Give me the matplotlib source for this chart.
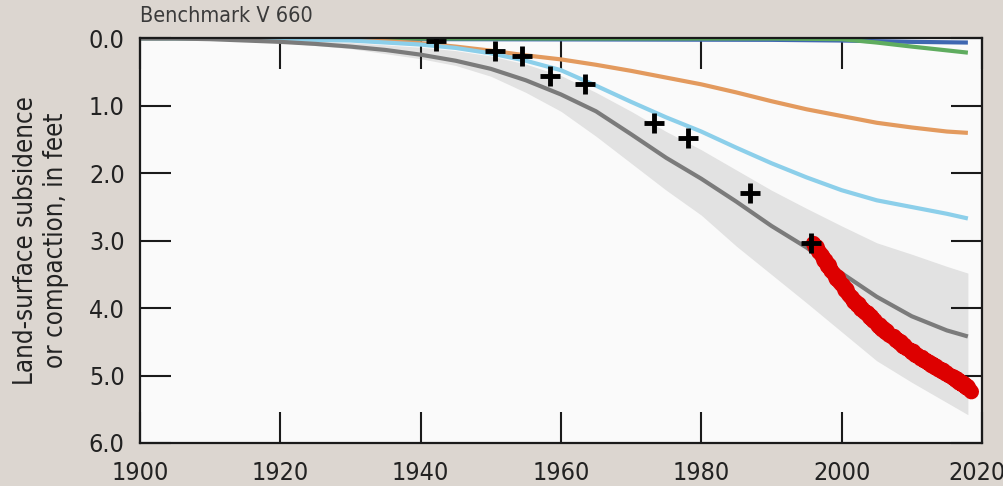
import numpy as np
import matplotlib
matplotlib.use("Agg")
import matplotlib.pyplot as plt
from matplotlib import font_manager
from matplotlib.transforms import ScaledTranslation

# ---- data (feet of subsidence / compaction) ----
band_years = [1900, 1910, 1920, 1930, 1940, 1945, 1950, 1955, 1960, 1965, 1970, 1975,
              1980, 1985, 1990, 1995, 2000, 2005, 2010, 2015, 2018]
band_upper = [0.0, 0.0, 0.02, 0.06, 0.13, 0.18, 0.26, 0.38, 0.55, 0.8, 1.08, 1.38,
              1.65, 1.95, 2.25, 2.52, 2.78, 3.03, 3.2, 3.38, 3.48]
band_lower = [0.0, 0.01, 0.06, 0.15, 0.3, 0.4, 0.56, 0.8, 1.08, 1.45, 1.85, 2.25,
              2.62, 3.08, 3.5, 3.92, 4.35, 4.78, 5.1, 5.4, 5.58]

sim_years = [1900, 1905, 1910, 1915, 1920, 1925, 1930, 1935, 1940, 1945, 1950, 1955,
             1960, 1965, 1970, 1975, 1980, 1985, 1990, 1995, 2000, 2005, 2010, 2015, 2018]
sim_total = [0.0, 0.0, 0.01, 0.03, 0.05, 0.08, 0.12, 0.17, 0.24, 0.33, 0.45, 0.62,
             0.83, 1.08, 1.42, 1.77, 2.08, 2.42, 2.78, 3.1, 3.48, 3.83, 4.12, 4.33, 4.42]

lb_years = [1900, 1910, 1920, 1930, 1940, 1945, 1950, 1955, 1960, 1965, 1970, 1975,
            1980, 1985, 1990, 1995, 2000, 2005, 2010, 2015, 2018]
lb_values = [0.0, 0.0, 0.01, 0.03, 0.09, 0.14, 0.22, 0.33, 0.47, 0.7, 0.94, 1.17,
             1.38, 1.62, 1.85, 2.06, 2.25, 2.4, 2.5, 2.6, 2.67]

or_years = [1900, 1920, 1925, 1930, 1935, 1940, 1945, 1950, 1955, 1960, 1965, 1970,
            1975, 1980, 1985, 1990, 1995, 2000, 2005, 2010, 2015, 2018]
or_values = [0.0, 0.0, 0.01, 0.02, 0.04, 0.07, 0.12, 0.18, 0.25, 0.31, 0.39, 0.48,
             0.58, 0.68, 0.8, 0.93, 1.05, 1.15, 1.25, 1.32, 1.38, 1.40]

gr_years = [1900, 1990, 2000, 2005, 2010, 2018]
gr_values = [0.0, 0.0, 0.01, 0.06, 0.12, 0.21]

bl_years = [1900, 1990, 2000, 2010, 2018]
bl_values = [0.0, 0.02, 0.03, 0.05, 0.06]

survey_years = [1942.2, 1950.6, 1954.5, 1958.5, 1963.5, 1973.3, 1978.1, 1986.9, 1995.7]
survey_values = [0.03, 0.19, 0.26, 0.56, 0.67, 1.25, 1.47, 2.29, 3.03]

# quarterly record, 1996.0 to 2018.5
gps_values = [3.04, 3.10, 3.09, 3.17, 3.19, 3.22, 3.30, 3.29, 3.38, 3.36, 3.45, 3.47,
              3.50, 3.57, 3.54, 3.62, 3.65, 3.66, 3.74, 3.72, 3.80, 3.83, 3.84, 3.91,
              3.90, 3.96, 3.94, 4.02, 4.01, 4.06, 4.08, 4.07, 4.14, 4.12, 4.19, 4.18,
              4.23, 4.27, 4.25, 4.32, 4.30, 4.36, 4.34, 4.40, 4.41, 4.43, 4.42, 4.48,
              4.47, 4.52, 4.50, 4.57, 4.55, 4.60, 4.61, 4.62, 4.66, 4.64, 4.70, 4.69,
              4.72, 4.75, 4.73, 4.78, 4.77, 4.81, 4.80, 4.85, 4.83, 4.88, 4.86, 4.91,
              4.90, 4.94, 4.92, 4.97, 4.96, 5.00, 5.00, 5.03, 5.02, 5.07, 5.05, 5.11,
              5.09, 5.14, 5.12, 5.18, 5.16, 5.21, 5.24]
gps_years = np.linspace(1996.0, 2018.5, len(gps_values))

x_ticks = [1900, 1920, 1940, 1960, 1980, 2000, 2020]
y_ticks = [0.0, 1.0, 2.0, 3.0, 4.0, 5.0, 6.0]

# ---- fonts: prefer a narrow sans if one is installed ----
narrow = None
for f in font_manager.fontManager.ttflist:
    if ("Narrow" in f.name or "Condensed" in f.name or
            f.stretch in ("condensed", "semi-condensed")) and "Serif" not in f.name \
            and "Mono" not in f.name:
        narrow = f
        break
if narrow is not None:
    plt.rcParams["font.family"] = [narrow.name, "DejaVu Sans"]
    plt.rcParams["font.stretch"] = narrow.stretch
    tick_size, label_size, title_size = 18, 18.5, 15.5
else:
    plt.rcParams["font.family"] = ["Liberation Sans", "DejaVu Sans"]
    tick_size, label_size, title_size = 15.5, 16, 15

fig = plt.figure(figsize=(10.04, 4.86), dpi=100, facecolor="#dcd6d0")
ax = fig.add_axes([0.1394, 0.0885, 0.8386, 0.8323])
ax.set_facecolor("#fafafa")

ax.fill_between(band_years, band_upper, band_lower, color="#e2e2e2", lw=0, zorder=1)
ax.plot(bl_years, bl_values, color="#3f67b1", lw=3, zorder=3, solid_capstyle="butt")
ax.plot(gr_years, gr_values, color="#5fac5f", lw=3, zorder=3, solid_capstyle="butt")
ax.plot(or_years, or_values, color="#e39a5e", lw=3, zorder=3, solid_capstyle="butt")
ax.plot(lb_years, lb_values, color="#8ccfea", lw=3, zorder=3, solid_capstyle="butt")
ax.plot(sim_years, sim_total, color="#7b7b7b", lw=3, zorder=3, solid_capstyle="butt")
ax.plot(gps_years, gps_values, color="#dd0000", lw=11, zorder=4,
        solid_joinstyle="round", solid_capstyle="round")
ax.plot(survey_years, survey_values, ls="none", marker="+", color="black",
        ms=15, mew=3.5, zorder=5)

ax.set_xlim(1900, 2020)
ax.set_ylim(6.0, 0.0)
ax.set_xticks(x_ticks)
ax.set_yticks(y_ticks)
ax.set_xticklabels([str(v) for v in x_ticks])
ax.set_yticklabels([f"{v:.1f}" for v in y_ticks])

for s in ax.spines.values():
    s.set_linewidth(1.6)
    s.set_color("#1a1a1a")
    s.set_zorder(6)

ax.tick_params(axis="both", which="major", direction="in", length=22, width=1.5,
               color="#1a1a1a", top=True, right=True, labelsize=tick_size,
               labelcolor="#222222")
ax.tick_params(axis="y", pad=11)
ax.tick_params(axis="x", pad=13)

# keep the last year label inside the figure edge
last = ax.get_xticklabels()[-1]
last.set_transform(last.get_transform() + ScaledTranslation(-5 / 100, 0, fig.dpi_scale_trans))

ax.set_ylabel("Land-surface subsidence\nor compaction, in feet", fontsize=label_size,
              color="#222222", labelpad=14, linespacing=1.2)
ax.text(0.0, 1.03, "Benchmark V 660", transform=ax.transAxes, fontsize=title_size,
        color="#3a3a3a", ha="left", va="bottom")

fig.savefig("out.png", dpi=100, facecolor=fig.get_facecolor())
